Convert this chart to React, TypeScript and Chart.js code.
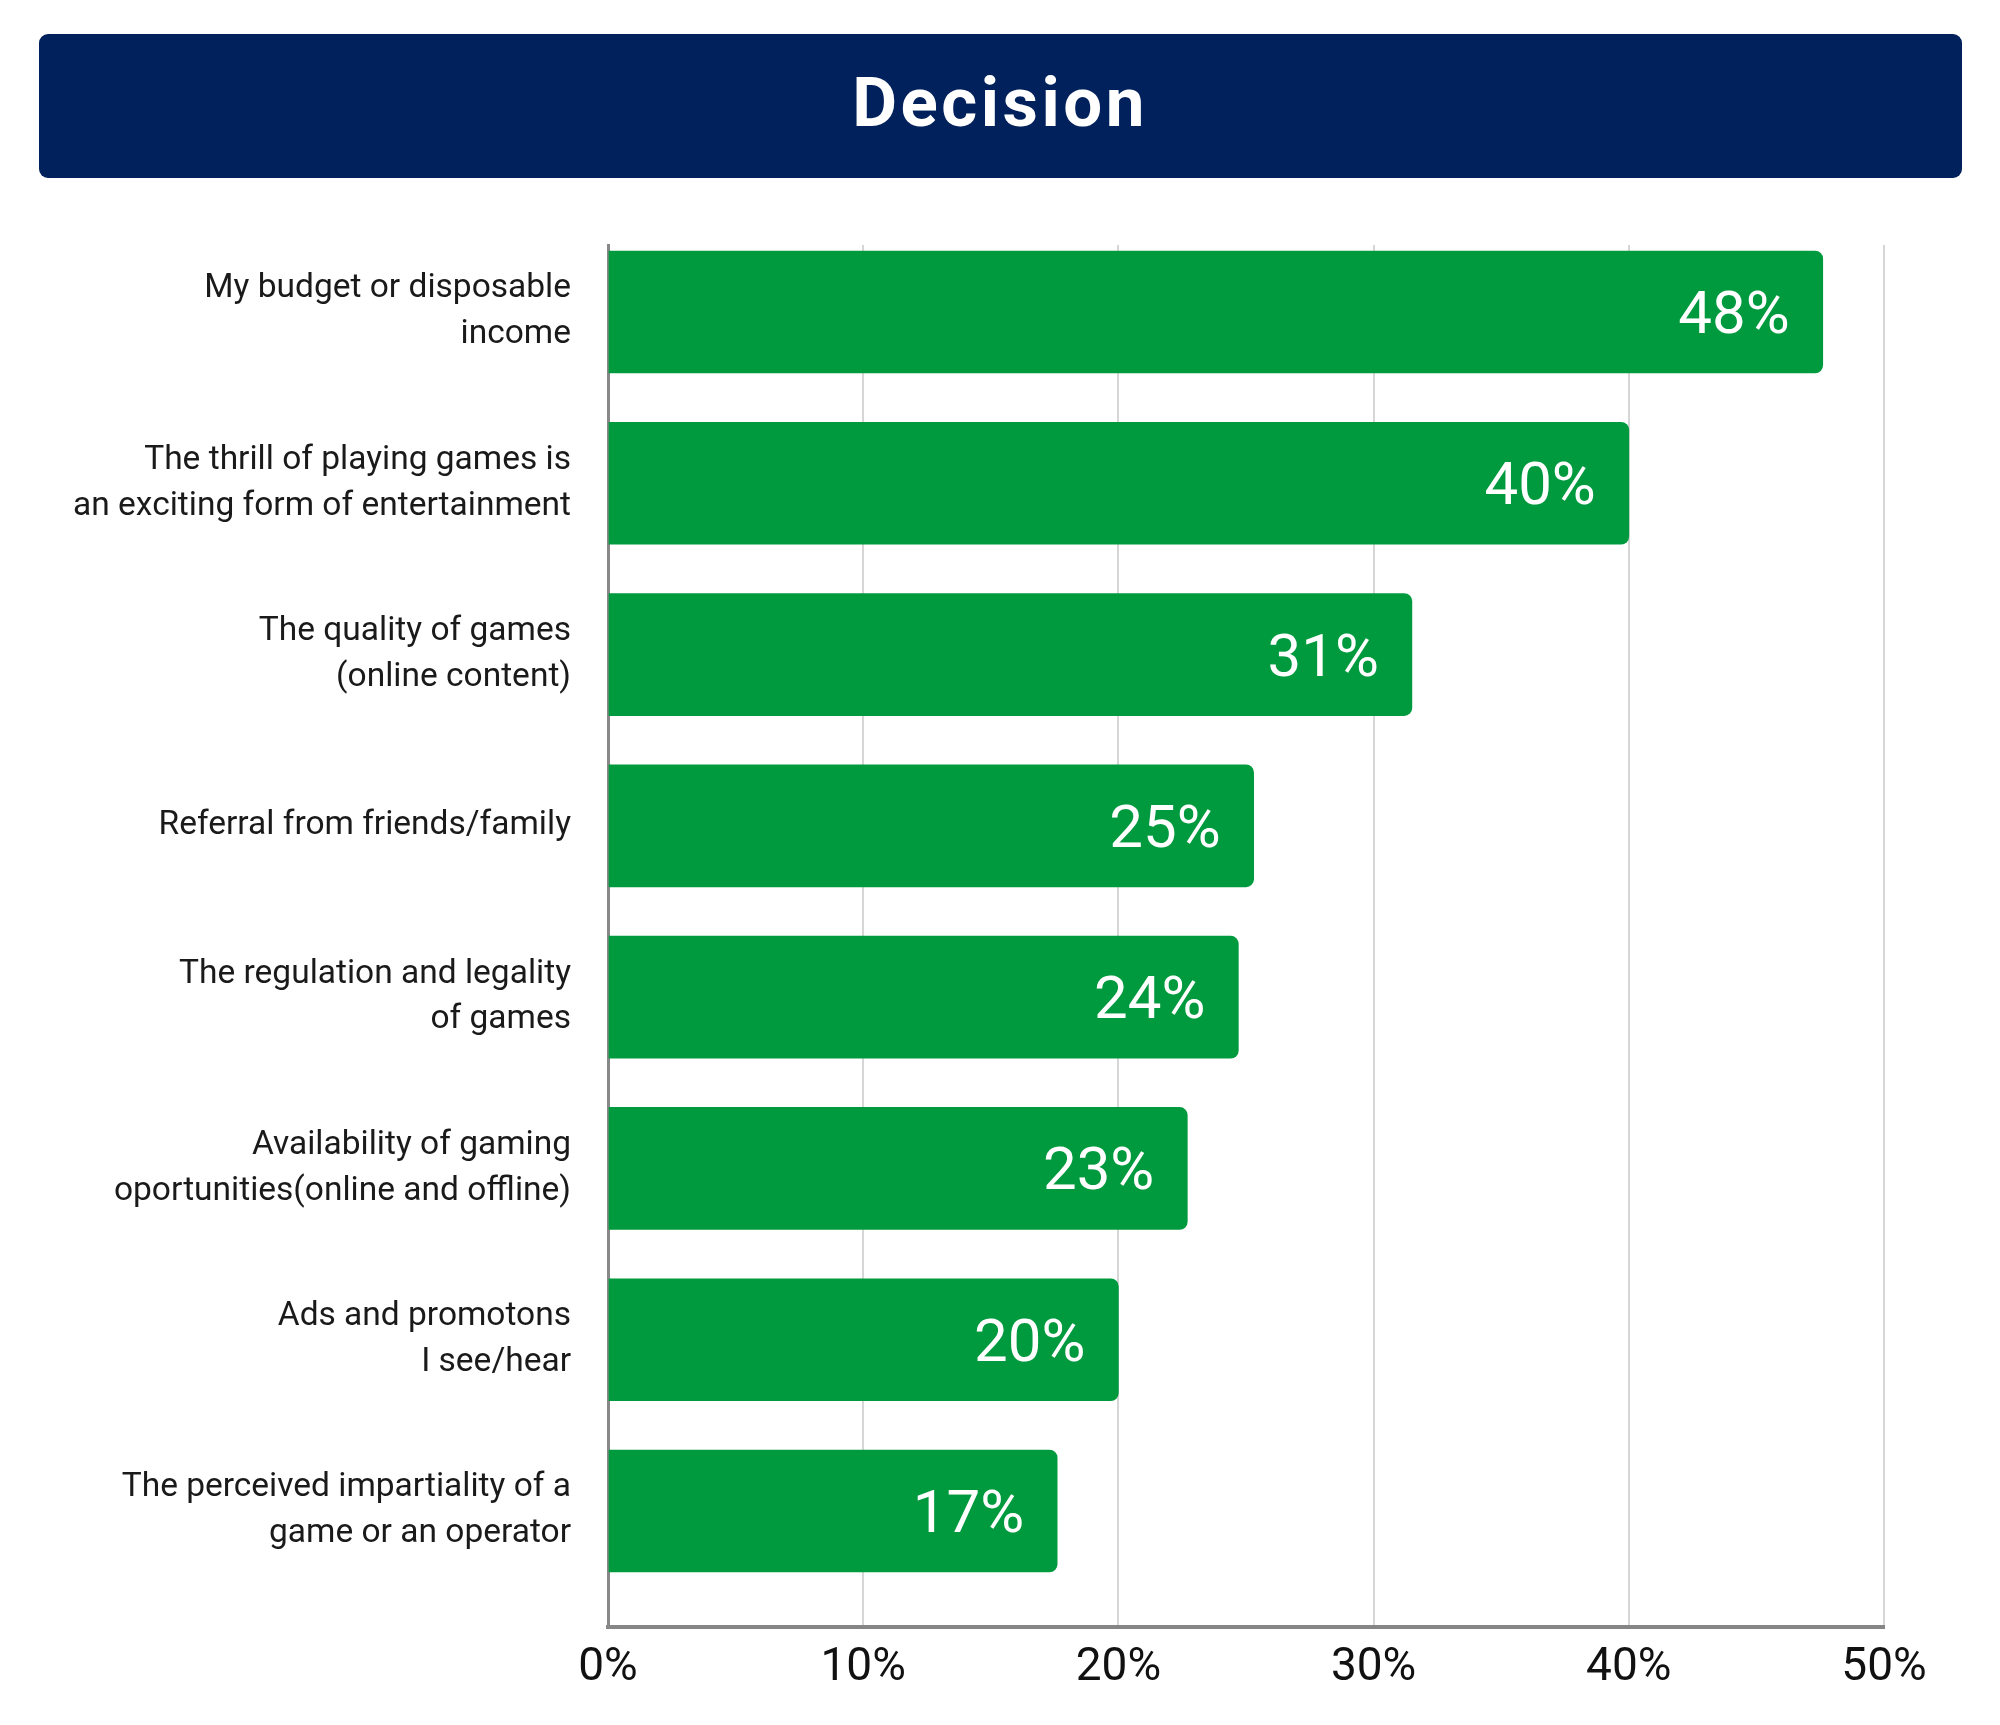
import React, { useEffect, useRef } from "react";
import { Chart, registerables } from "chart.js";

Chart.register(...registerables);

const chartTitle = "Decision";

const categories: string[][] = [
  ["My budget or disposable", "income"],
  ["The thrill of playing games is", "an exciting form of entertainment"],
  ["The quality of games", "(online content)"],
  ["Referral from friends/family"],
  ["The regulation and legality", "of games"],
  ["Availability of gaming", "oportunities(online and offline)"],
  ["Ads and promotons", "I see/hear"],
  ["The perceived impartiality of a", "game or an operator"],
];

const values: number[] = [47.6, 40.0, 31.5, 25.3, 24.7, 22.7, 20.0, 17.6];

const valueLabels: string[] = ["48%", "40%", "31%", "25%", "24%", "23%", "20%", "17%"];

const xTicks: number[] = [0, 10, 20, 30, 40, 50];

const BAR_COLOR = "#009A3E";
const BANNER_COLOR = "#00215C";

const valueLabelPlugin = {
  id: "valueLabels",
  afterDatasetsDraw(chart: any) {
    const meta = chart.getDatasetMeta(0);
    const ctx = chart.ctx;
    ctx.save();
    ctx.font = "400 60px Roboto";
    ctx.fillStyle = "#ffffff";
    ctx.textAlign = "right";
    ctx.textBaseline = "middle";
    meta.data.forEach((bar: any, i: number) => {
      ctx.fillText(valueLabels[i], bar.x - 33, bar.y + 6);
    });
    ctx.restore();
  },
};

export default function App() {
  const canvasRef = useRef<HTMLCanvasElement | null>(null);

  useEffect(() => {
    if (!canvasRef.current) return;
    const chart = new Chart(canvasRef.current, {
      type: "bar",
      data: {
        datasets: [
          {
            data: values.map((v, i) => ({ x: v, y: i })) as any,
            backgroundColor: BAR_COLOR,
            borderRadius: 8,
            borderSkipped: "start",
            barThickness: 122,
          },
        ],
      },
      options: {
        indexAxis: "y",
        responsive: false,
        animation: false,
        layout: { padding: { top: 245, right: 116, left: 0, bottom: 0 } },
        plugins: {
          legend: { display: false },
          tooltip: { enabled: false },
          title: { display: false },
        },
        scales: {
          x: {
            type: "linear",
            position: "bottom",
            min: 0,
            max: 50,
            afterBuildTicks: (scale: any) => {
              scale.ticks = xTicks.map((v) => ({ value: v }));
            },
            afterFit: (scale: any) => {
              scale.height = 98;
            },
            ticks: {
              callback: (v: any) => v + "%",
              font: { family: "Roboto", size: 46 },
              color: "#111111",
              padding: 14,
              maxRotation: 0,
              autoSkip: false,
            },
            grid: {
              color: "#D6D6D6",
              lineWidth: 2,
              drawTicks: false,
            },
            border: { display: true, color: "#868686", width: 4 },
          },
          y: {
            type: "linear",
            position: "left",
            reverse: true,
            offset: false,
            bounds: "data",
            grace: 0,
            min: -0.391,
            max: 7.677,
            afterBuildTicks: (scale: any) => {
              scale.ticks = categories.map((_, i) => ({ value: i }));
            },
            afterFit: (scale: any) => {
              scale.width = 608;
            },
            ticks: {
              callback: (v: any) => categories[v as number] ?? "",
              font: { family: "Roboto", size: 33.5, lineHeight: 1.37 },
              color: "#1a1a1a",
              padding: 37,
              autoSkip: false,
            },
            grid: { display: false, drawTicks: false },
            border: { display: true, color: "#888888", width: 3 },
          },
        },
      },
      plugins: [valueLabelPlugin],
    });
    return () => chart.destroy();
  }, []);

  return (
    <div
      style={{
        position: "absolute",
        left: 0,
        top: 0,
        width: 2000,
        height: 1725,
        background: "#ffffff",
        overflow: "hidden",
      }}
    >
      <div
        style={{
          position: "absolute",
          left: 39,
          top: 34,
          width: 1923,
          height: 144,
          background: BANNER_COLOR,
          borderRadius: 9,
        }}
      />
      <div
        style={{
          position: "absolute",
          left: 0,
          top: 68,
          width: 2000,
          textAlign: "center",
          fontFamily: "Roboto",
          fontWeight: 700,
          fontSize: 69,
          lineHeight: "69px",
          letterSpacing: "3.5px",
          color: "#ffffff",
        }}
      >
        {chartTitle}
      </div>
      <canvas
        ref={canvasRef}
        width={2000}
        height={1725}
        style={{ position: "absolute", left: 0, top: 0, width: 2000, height: 1725 }}
      />
    </div>
  );
}
